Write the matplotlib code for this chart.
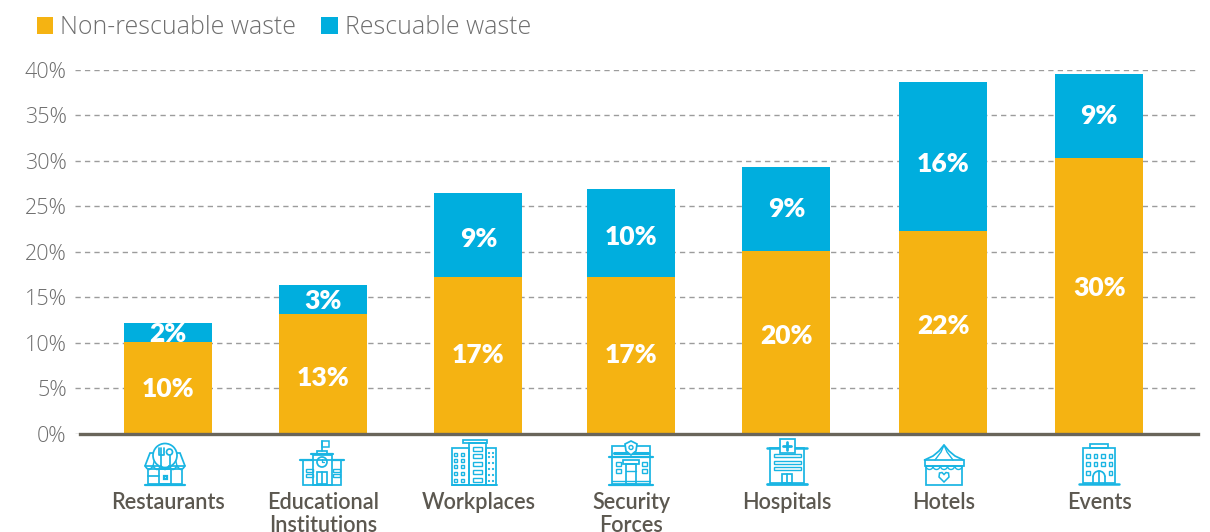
#!/usr/bin/env python
# coding: utf-8

# stacked bars of food waste by sector, with small line icons under the axis
import matplotlib
matplotlib.use('Agg')
import matplotlib.pyplot as plt
from matplotlib.patches import Rectangle, Circle, Polygon, Arc

W, H = 1210, 532

categories = ['Restaurants', 'Educational\nInstitutions', 'Workplaces', 'Security\nForces',
              'Hospitals', 'Hotels', 'Events']
non_rescuable = [10.05, 13.1, 17.2, 17.2, 20.05, 22.25, 30.3]
rescuable = [2.15, 3.2, 9.25, 9.7, 9.3, 16.45, 9.3]
yticks = [0, 5, 10, 15, 20, 25, 30, 35, 40]

# bars are not quite evenly spaced in the original
bar_pos = [0, 1, 2, 2.985, 3.985, 4.996, 6]
# nudges of the value labels, in px
nudge_low = [-1, -4, 0, 0, 6, 6, 8]
nudge_high = [-2, -1, -4, -4, 0, -7, 0]
icon_cx = [165, 322, 473.5, 631, 787, 944, 1099]

YELLOW = '#f5b312'
BLUE = '#00aede'
ICON = '#19b5e3'
GREY = '#6e6e6e'
DARK = '#5c5850'
LW = 1.25

fig = plt.figure(figsize=(W / 100, H / 100), dpi=100)
ax = fig.add_axes([75 / W, (H - 433.5) / H, 1123 / W, 363.5 / H])

x = bar_pos
totals = [a + b for a, b in zip(non_rescuable, rescuable)]
# white halo keeps the dashes off the bars
ax.bar(x, totals, width=0.567 + 8 / 155.2, color='white', zorder=1)
bar1 = ax.bar(x, non_rescuable, width=0.567, color=YELLOW, zorder=2, label='Non-rescuable waste')
bar2 = ax.bar(x, rescuable, width=0.567, bottom=non_rescuable, color=BLUE, zorder=2, label='Rescuable waste')

lab = dict(color='white', fontsize=19, fontweight='heavy', family='Lato', ha='center', va='center', zorder=3,
           textcoords='offset points')
for i in range(len(x)):
    ax.annotate('%.0f%%' % non_rescuable[i], (x[i], non_rescuable[i] / 2), xytext=(0, nudge_low[i] * 0.72), **lab)
    ax.annotate('%.0f%%' % rescuable[i], (x[i], non_rescuable[i] + rescuable[i] / 2),
                xytext=(0, nudge_high[i] * 0.72), **lab)

ax.set_xlim(-0.599, 6.637)
ax.set_ylim(0, 40)
ax.set_yticks(yticks)
ax.set_yticklabels(['%d%%' % t for t in yticks], family='Open Sans', fontsize=15.5, fontweight='light', color=GREY)
ax.set_xticks(x)
ax.set_xticklabels(categories, family='Lato', fontsize=15.6, fontweight='semibold', color=DARK, linespacing=1.12)
ax.tick_params(axis='y', length=0, pad=6)
ax.tick_params(axis='x', length=0, pad=42.2)
ax.grid(axis='y', color='#9c9c9c', linestyle=(0, (3.8, 3.0)), linewidth=1, zorder=0)
for s in ['top', 'left', 'right']:
    ax.spines[s].set_visible(False)
ax.spines['bottom'].set_bounds(-0.567, 6.637)
ax.spines['bottom'].set_color('#69655a')
ax.spines['bottom'].set_linewidth(2.4)
ax.spines['bottom'].set_zorder(4)

ax.legend(handles=[bar1, bar2], loc='upper left', bbox_to_anchor=(-38 / 1123, 1 + 55 / 363.5), ncol=2,
          frameon=False, handlelength=0.66, handleheight=0.66, handletextpad=0.28, columnspacing=1.0,
          borderpad=0, borderaxespad=0,
          prop={'family': 'Open Sans', 'size': 17.9, 'weight': 'light'}, labelcolor=GREY)

# overlay in pixel coordinates for the icons (y pointing up, origin at icon base)
ov = fig.add_axes([0, 0, 1, 1])
ov.set_xlim(0, W)
ov.set_ylim(0, H)
ov.axis('off')
ov.patch.set_alpha(0)


def rect(cx, base, x0, y0, w, h, lw=LW):
    ov.add_patch(Rectangle((cx + x0, base + y0), w, h, fill=False, ec=ICON, lw=lw))


def line(cx, base, pts, lw=LW, z=2):
    ov.plot([cx + p[0] for p in pts], [base + p[1] for p in pts], color=ICON, lw=lw, solid_capstyle='round', zorder=z)


def circ(cx, base, x0, y0, r, lw=LW):
    ov.add_patch(Circle((cx + x0, base + y0), r, fill=False, ec=ICON, lw=lw))


def poly(cx, base, pts, lw=LW):
    ov.add_patch(Polygon([(cx + p[0], base + p[1]) for p in pts], fill=False, ec=ICON, lw=lw))


def windows(cx, base, xs, ys, s=3.5, lw=1.0):
    for a in xs:
        for b in ys:
            rect(cx, base, a, b, s, s, lw=lw)


def restaurant(cx, base):
    line(cx, base, [(-20, 0), (20, 0)], 1.6)
    rect(cx, base, -17, 1, 34, 15)
    line(cx, base, [(-17, 9), (-6, 9)])
    rect(cx, base, -6, 1, 12, 15)
    rect(cx, base, -1.5, 6, 3, 3, lw=1.6)
    poly(cx, base, [(-20, 19), (-15, 32), (15, 32), (20, 19)])
    ov.add_patch(Circle((cx, base + 29.5), 12, fc='white', ec=ICON, lw=LW, zorder=2.5))
    for a in (-20, -12, -4, 4, 12):
        line(cx, base, [(a, 19), (a + 2, 16.5), (a + 4, 15.5), (a + 6, 16.5), (a + 8, 19)], z=3)
    line(cx, base, [(-12, 19), (-9, 32)], 1.0)
    line(cx, base, [(12, 19), (9, 32)], 1.0)
    # fork and spoon
    line(cx, base, [(-6, 37), (-6, 30), (-1.5, 30), (-1.5, 37)], z=3)
    line(cx, base, [(-3.8, 37), (-3.8, 19)], z=3)
    ov.add_patch(Circle((cx + 4.5, base + 33), 3, fill=False, ec=ICON, lw=LW, zorder=3))
    line(cx, base, [(4.5, 30), (4.5, 19)], z=3)


def school(cx, base):
    rect(cx, base, -19, 0, 38, 25)
    rect(cx, base, -9.5, 0, 19, 30)
    line(cx, base, [(-22, 25), (-9.5, 25)], 1.6)
    line(cx, base, [(9.5, 25), (22, 25)], 1.6)
    line(cx, base, [(-11, 31), (11, 31)], 1.6)
    rect(cx, base, -5, 31, 10, 3)
    circ(cx, base, 0, 23, 5)
    line(cx, base, [(0, 26), (0, 23), (2, 23)], 0.9)
    rect(cx, base, -5, 1, 10, 12)
    line(cx, base, [(0, 1), (0, 13)])
    line(cx, base, [(0, 34), (0, 44)])
    poly(cx, base, [(0, 44), (7, 44), (7, 38), (0, 38)], lw=1.1)
    for a in (-16, 11):
        rect(cx, base, a, 13, 7, 3, lw=1.0)
        rect(cx, base, a, 8, 7, 3, lw=1.0)


def office(cx, base):
    line(cx, base, [(-22, 0), (23, 0)], 1.4)
    rect(cx, base, -22, 0, 17.5, 37)
    rect(cx, base, -4.5, 0, 16.5, 42)
    rect(cx, base, 12, 0, 10.5, 37)
    rect(cx, base, -11, 42, 24, 3)
    windows(cx, base, [-19.5, -12.5], [3, 10, 17, 23, 29], s=3.4)
    for b in (3, 11, 19, 27, 34):
        rect(cx, base, -1, b, 9, 4.5, lw=1.0)
    for a in (14.5, 18.5):
        for b in (4, 10, 16, 22, 28, 32):
            rect(cx, base, a, b, 0.8, 0.8, lw=0.8)


def security(cx, base):
    line(cx, base, [(-22, 0), (22, 0)], 1.6)
    line(cx, base, [(-19, 4), (19, 4)], 1.0)
    rect(cx, base, -19, 1, 38, 27)
    line(cx, base, [(-22, 28), (22, 28)], 1.6)
    rect(cx, base, -19, 28, 38, 11)
    line(cx, base, [(-17, 32), (17, 32)], 2.2)
    rect(cx, base, -5, 1, 10, 20)
    line(cx, base, [(-5, 14), (5, 14)], 1.0)
    rect(cx, base, -8, 21, 16, 4)
    windows(cx, base, [-15, 11], [12, 19], s=4.5)
    ov.add_patch(Polygon([(cx - 6, base + 41), (cx, base + 44), (cx + 6, base + 41), (cx + 5, base + 34),
                          (cx, base + 30), (cx - 5, base + 34)], fc='white', ec=ICON, lw=LW, zorder=3))
    ov.add_patch(Circle((cx, base + 37.5), 2, fill=False, ec=ICON, lw=1.0, zorder=3))


def hospital(cx, base):
    line(cx, base, [(-20, 1), (20, 1)], 2.0)
    rect(cx, base, -17, 2, 34, 35)
    line(cx, base, [(-20, 37), (20, 37)], 1.8)
    for b in (15, 21.5, 28):
        rect(cx, base, -13, b, 27, 3, lw=1.0)
    rect(cx, base, -5, 2, 10, 9)
    line(cx, base, [(0, 2), (0, 11)])
    ov.add_patch(plt.Rectangle((cx - 7.5, base + 32), 15, 14, fill=True, fc='white', ec=ICON, lw=LW, zorder=3))
    line(cx, base, [(-4, 39), (4, 39)], 2.0, z=4)
    line(cx, base, [(0, 35), (0, 43)], 2.0, z=4)


def tent(cx, base):
    rect(cx, base, -18, 0, 36, 19)
    rect(cx, base, -19.5, 19, 39, 6)
    line(cx, base, [(-19.5, 25), (-11, 29), (-5, 34), (0, 40), (5, 34), (11, 29), (19.5, 25)])
    line(cx, base, [(-9, 25), (-3, 33), (0, 40), (3, 33), (9, 25)], 1.0)
    for a in (-18, -11, -3.5, 3.5, 11):
        ov.add_patch(Arc((cx + a + 3.5, base + 19), 7, 7, theta1=180, theta2=360, ec=ICON, lw=1.0))
    poly(cx, base, [(0, 3), (-5, 8), (-4.5, 12), (-2, 12.5), (0, 10.5), (2, 12.5), (4.5, 12), (5, 8)], lw=1.1)


def hotel(cx, base):
    line(cx, base, [(-20, 1), (20, 1)], 1.8)
    rect(cx, base, -16, 2, 32, 35)
    rect(cx, base, -9, 37, 18, 4)
    windows(cx, base, [-13, -5.5, 2, 9.5], [27, 19], s=3.6)
    windows(cx, base, [-13, 9.5], [10], s=3.6)
    ov.add_patch(Arc((cx, base + 8), 12, 12, theta1=0, theta2=180, ec=ICON, lw=LW))
    line(cx, base, [(-6, 2), (-6, 8)])
    line(cx, base, [(6, 2), (6, 8)])
    line(cx, base, [(0, 2), (0, 14)])


icons = [restaurant, school, office, security, hospital, tent, hotel]
for cx, draw in zip(icon_cx, icons):
    draw(cx, H - 485)

fig.savefig('out.png', dpi=100)
